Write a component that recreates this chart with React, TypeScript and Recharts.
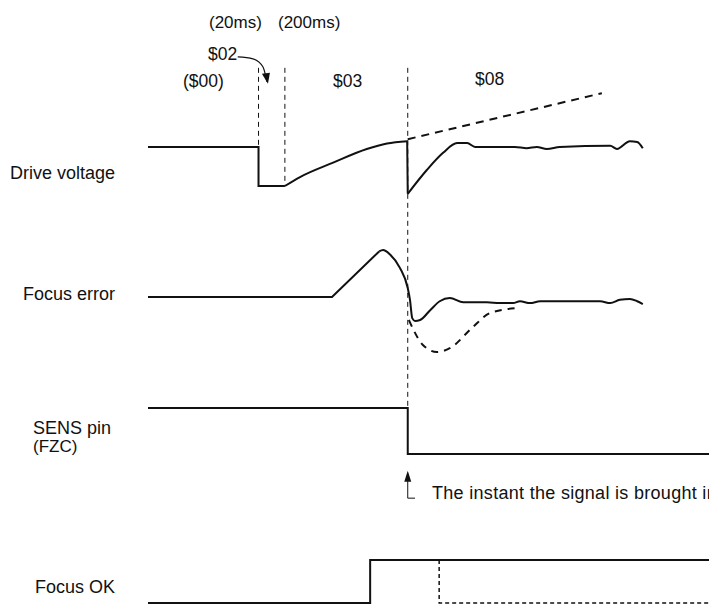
import React from 'react';
import { LineChart, Line, XAxis, YAxis, ReferenceLine } from 'recharts';

// time runs 0..100 across the trace area; each signal has its own level scale
const driveStep = [[0, 0], [19.7, 0], [19.7, -1], [24.4, -1]];
const driveRise = [[24.4, -1], [27.1, -0.77], [33.0, -0.4], [39.0, -0.05], [42.6, 0.09], [46.2, 0.15]];
const driveKick = [[46.2, 0.15], [46.3, -1.2]];
const driveSettle = [
  [46.3, -1.2], [49.7, -0.59], [52.6, -0.15], [55.1, 0.1], [56.9, 0.1], [58.3, 0], [60.4, 0],
  [62.7, 0], [65.4, 0], [67.5, -0.03], [69.3, 0], [71.1, -0.05], [73.4, 0], [82.4, 0.03],
  [83.6, -0.05], [85.9, 0.15], [87.2, 0.13], [88.2, -0.03],
];
const driveOpenLoop = [[46.3, 0.2], [80.9, 1.38]];

const focusErrRamp = [[0, 0], [32.8, 0], [41.2, 0.97]];
const focusErr = [
  [41.2, 0.97], [41.9, 1], [43.1, 0.91], [44.9, 0.62], [46.3, 0.19], [46.7, -0.06],
  [47.1, -0.45], [47.6, -0.51], [48.5, -0.49], [50.3, -0.28], [52.0, -0.09], [53.8, -0.02],
  [56.2, -0.11], [60.4, -0.11], [62.7, -0.13], [65.1, -0.13], [66.3, -0.09], [68.1, -0.13],
  [69.9, -0.09], [74.7, -0.09], [80.6, -0.09], [82.4, -0.13], [84.1, -0.06], [85.9, -0.04],
  [87.2, -0.09], [88.2, -0.15],
];
const focusErrOpenLoop = [[46.5, -0.49], [49.0, -1.02], [51.5, -1.17], [53.8, -1.09], [57.9, -0.64], [61.0, -0.34], [66.3, -0.23]];

const sensPin = [[0, 1], [46.3, 1], [46.3, 0], [100, 0]];
const focusOk = [[0, 0], [39.6, 0], [39.6, 1], [100, 1]];
const focusOkLate = [[51.9, 1], [51.9, 0], [100, 0]];

const phaseEdges = [19.7, 24.4];
const loopCloseTime = 46.3;
const pointer02 = [[16.0, 2.31], [18.7, 2.26], [20.5, 2.05], [21.2, 1.67]];
const instantArrow = [[46.3, -0.41], [46.3, -0.96], [47.6, -0.96]];

const topLabels = ['(20ms)', '(200ms)'];
const stateLabels = ['$02', '($00)', '$03', '$08'];
const signalLabels = ['Drive voltage', 'Focus error', 'SENS pin', '(FZC)', 'Focus OK'];
const note = 'The instant the signal is brought in';

const W = 709;
const H = 604;
const FONT = "'Liberation Sans', Arial, Helvetica, sans-serif";
const INK = '#111';

// baseline pixel row and pixels per level unit for each lane
const lane = (baseY: number, unit: number): [number, number] => [-(H - baseY) / unit, baseY / unit];
const dvDomain = lane(147, 39);
const feDomain = lane(297, 47);
const sensDomain = lane(454, 46);
const okDomain = lane(603, 43);

const pts = (arr: number[][]) => arr.map(([t, v]) => ({ t, v }));

const headDown = (props: any) => {
  const { cx, cy, index } = props;
  if (index !== pointer02.length - 1) return <g key={`h${index}`} />;
  return <path key={`h${index}`} d={`M${cx + 1},${cy + 2} L${cx - 5},${cy - 8} L${cx + 3},${cy - 9} Z`} fill={INK} />;
};

const headUp = (props: any) => {
  const { cx, cy, index } = props;
  if (index !== 0) return <g key={`u${index}`} />;
  return <path key={`u${index}`} d={`M${cx},${cy - 2} L${cx - 3.5},${cy + 9} L${cx + 3.5},${cy + 9} Z`} fill={INK} />;
};

const textPos: { s: string; x: number; y: number; size: number; ls?: number }[] = [
  { s: topLabels[0], x: 209, y: 28, size: 17 },
  { s: topLabels[1], x: 278, y: 28, size: 17 },
  { s: stateLabels[0], x: 208, y: 60, size: 17.5 },
  { s: stateLabels[1], x: 183, y: 87, size: 17.5 },
  { s: stateLabels[2], x: 333, y: 87, size: 17.5 },
  { s: stateLabels[3], x: 475, y: 85, size: 17.5 },
  { s: signalLabels[0], x: 10, y: 179, size: 18 },
  { s: signalLabels[1], x: 23, y: 300, size: 18 },
  { s: signalLabels[2], x: 33, y: 434, size: 18 },
  { s: signalLabels[3], x: 33, y: 452, size: 17 },
  { s: signalLabels[4], x: 35, y: 593, size: 18 },
  { s: note, x: 432, y: 499, size: 18, ls: 0.3 },
];

export default function App() {
  const solid = { stroke: INK, strokeWidth: 2, dot: false, isAnimationActive: false, activeDot: false } as const;
  return (
    <div style={{ position: 'absolute', left: 0, top: 0, width: W, height: H, background: '#fff' }}>
      <LineChart width={W} height={H} margin={{ top: 0, right: 0, bottom: 0, left: 148 }}>
        <XAxis type="number" dataKey="t" domain={[0, 100]} hide allowDataOverflow />
        <YAxis yAxisId="dv" type="number" domain={dvDomain} hide allowDataOverflow />
        <YAxis yAxisId="fe" type="number" domain={feDomain} hide allowDataOverflow />
        <YAxis yAxisId="sens" type="number" domain={sensDomain} hide allowDataOverflow />
        <YAxis yAxisId="ok" type="number" domain={okDomain} hide allowDataOverflow />

        {phaseEdges.map((x) => (
          <ReferenceLine key={x} yAxisId="dv" segment={[{ x, y: 2.03 }, { x, y: -1 }]} stroke={INK} strokeWidth={1} strokeDasharray="5 4" />
        ))}
        <ReferenceLine yAxisId="dv" segment={[{ x: loopCloseTime, y: 2.03 }, { x: loopCloseTime, y: -6.69 }]} stroke={INK} strokeWidth={1} strokeDasharray="5 4" />

        <Line yAxisId="dv" data={pts(driveStep)} dataKey="v" type="linear" {...solid} />
        <Line yAxisId="dv" data={pts(driveRise)} dataKey="v" type="monotone" {...solid} />
        <Line yAxisId="dv" data={pts(driveKick)} dataKey="v" type="linear" {...solid} />
        <Line yAxisId="dv" data={pts(driveSettle)} dataKey="v" type="monotone" {...solid} />
        <Line yAxisId="dv" data={pts(driveOpenLoop)} dataKey="v" type="linear" {...solid} strokeDasharray="8 6" />

        <Line yAxisId="fe" data={pts(focusErrRamp)} dataKey="v" type="linear" {...solid} />
        <Line yAxisId="fe" data={pts(focusErr)} dataKey="v" type="monotone" {...solid} />
        <Line yAxisId="fe" data={pts(focusErrOpenLoop)} dataKey="v" type="monotone" {...solid} strokeDasharray="7 6" />

        <Line yAxisId="sens" data={pts(sensPin)} dataKey="v" type="linear" {...solid} />
        <Line yAxisId="ok" data={pts(focusOk)} dataKey="v" type="linear" {...solid} />
        <Line yAxisId="ok" data={pts(focusOkLate)} dataKey="v" type="linear" {...solid} strokeWidth={1.5} strokeDasharray="4 3" />

        <Line yAxisId="dv" data={pts(pointer02)} dataKey="v" type="monotone" stroke={INK} strokeWidth={1.2} dot={headDown} isAnimationActive={false} activeDot={false} />
        <Line yAxisId="sens" data={pts(instantArrow)} dataKey="v" type="linear" stroke={INK} strokeWidth={1} dot={headUp} isAnimationActive={false} activeDot={false} />
      </LineChart>
      <svg width={W} height={H} style={{ position: 'absolute', left: 0, top: 0, pointerEvents: 'none' }}>
        {textPos.map((d) => (
          <text key={d.s} x={d.x} y={d.y} fontSize={d.size} fontFamily={FONT} fill={INK} letterSpacing={d.ls ?? 0}>
            {d.s}
          </text>
        ))}
      </svg>
    </div>
  );
}
